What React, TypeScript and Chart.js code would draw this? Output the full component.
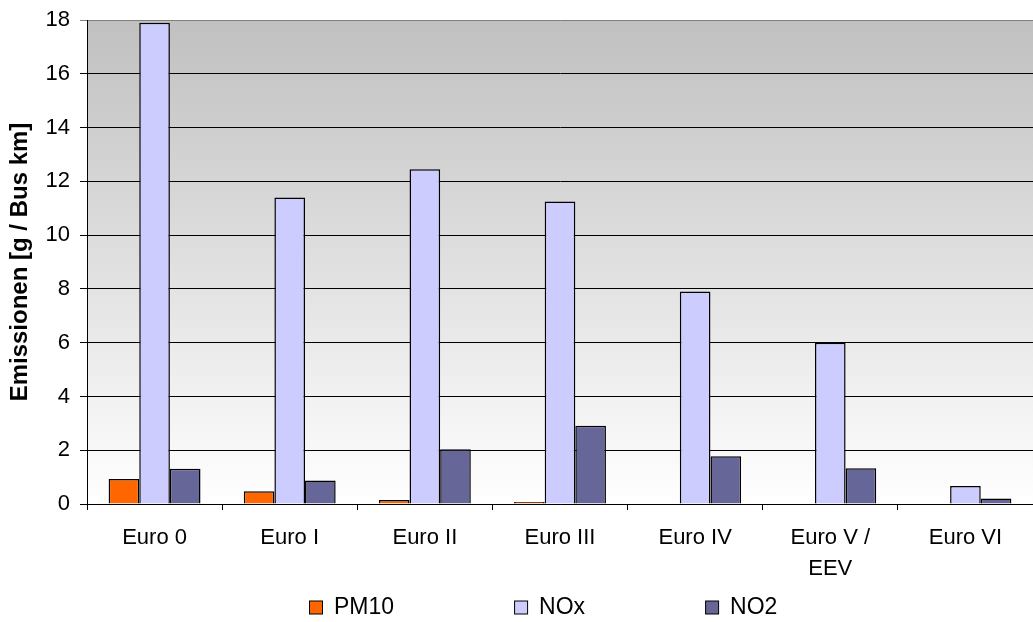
import React, { useEffect, useRef } from "react";
import { Chart, registerables } from "chart.js";

Chart.register(...registerables);

const categories: (string | string[])[] = ["Euro 0", "Euro I", "Euro II", "Euro III", "Euro IV", ["Euro V /", "EEV"], "Euro VI"];
const seriesNames = ["PM10", "NOx", "NO2"];
const pm10 = [0.93, 0.47, 0.15, 0.07, 0, 0, 0];
const nox = [17.9, 11.4, 12.45, 11.25, 7.9, 6.0, 0.67];
const no2 = [1.31, 0.87, 2.04, 2.91, 1.78, 1.33, 0.2];
const yMin = 0;
const yMax = 18;
const yStep = 2;

const FONT = "'Liberation Sans', Arial, sans-serif";

const bgPlugin = {
  id: "plotBg",
  beforeDraw(chart: any) {
    const { ctx, chartArea } = chart;
    if (!chartArea) return;
    const g = ctx.createLinearGradient(0, chartArea.top, 0, chartArea.bottom);
    g.addColorStop(0, "#C0C0C0");
    g.addColorStop(1, "#FFFFFF");
    ctx.save();
    ctx.fillStyle = g;
    ctx.fillRect(chartArea.left, chartArea.top, chartArea.right - chartArea.left, chartArea.bottom - chartArea.top);
    ctx.restore();
  },
};

// Legend drawn from the chart's datasets with fixed gaps between entries
const legendPlugin = {
  id: "bottomLegend",
  afterDraw(chart: any) {
    const { ctx } = chart;
    const fontSize = 23;
    const box = 13;
    const textGap = 12;
    const itemGap = 120;
    const centerX = 543;
    const centerY = 607;
    ctx.save();
    ctx.font = `${fontSize}px ${FONT}`;
    const items = chart.data.datasets.map((ds: any) => {
      const w = box + textGap + ctx.measureText(ds.label).width;
      return { ds, w };
    });
    const total = items.reduce((s: number, it: any) => s + it.w, 0) + itemGap * (items.length - 1);
    let x = Math.round(centerX - total / 2);
    ctx.textBaseline = "middle";
    ctx.textAlign = "left";
    for (const it of items) {
      ctx.fillStyle = it.ds.backgroundColor;
      ctx.fillRect(x + 0.5, centerY - box / 2 + 0.5, box, box);
      ctx.strokeStyle = "#000";
      ctx.lineWidth = 1;
      ctx.strokeRect(x + 0.5, centerY - box / 2 + 0.5, box, box);
      ctx.fillStyle = "#000";
      ctx.fillText(it.ds.label, x + box + textGap, centerY + 1);
      x += it.w + itemGap;
    }
    ctx.restore();
  },
};

export default function App() {
  const ref = useRef<HTMLCanvasElement | null>(null);
  useEffect(() => {
    document.body.style.margin = "0";
    const canvas = ref.current!;
    const chart = new Chart(canvas, {
      type: "bar",
      data: {
        labels: categories as any,
        datasets: [
          { label: seriesNames[0], data: pm10, backgroundColor: "#FF6600", borderColor: "#000000", borderWidth: 1.5, categoryPercentage: 0.68, barPercentage: 1 },
          { label: seriesNames[1], data: nox, backgroundColor: "#CCCCFF", borderColor: "#000000", borderWidth: 1.5, categoryPercentage: 0.68, barPercentage: 1 },
          { label: seriesNames[2], data: no2, backgroundColor: "#666699", borderColor: "#000000", borderWidth: 1.5, categoryPercentage: 0.68, barPercentage: 1 },
        ],
      },
      options: {
        animation: false,
        responsive: false,
        maintainAspectRatio: false,
        layout: { padding: { top: 20, right: 0, left: 0, bottom: 38 } },
        plugins: {
          legend: { display: false },
          tooltip: { enabled: false },
        },
        scales: {
          x: {
            grid: { display: true, drawOnChartArea: false, drawTicks: true, tickLength: 6, color: "#000", offset: true },
            border: { display: true, color: "#000", width: 1 },
            ticks: { color: "#000", font: { family: FONT, size: 22, lineHeight: 1.4 }, maxRotation: 0, autoSkip: false, padding: 13 },
            afterFit(scale: any) { scale.height = 80; },
          },
          y: {
            min: yMin,
            max: yMax,
            ticks: { stepSize: yStep, color: "#000", font: { family: FONT, size: 22 }, padding: 10 },
            grid: {
              color: (c: any) => (c.tick && c.tick.value === yMax ? "#808080" : "#000"),
              lineWidth: 1,
              tickLength: 7,
              drawTicks: true,
            },
            border: { display: true, color: "#000", width: 1 },
            title: { display: true, text: "Emissionen [g / Bus km]", color: "#000", font: { family: FONT, size: 24, weight: "bold" }, padding: { top: 6, bottom: 0 } },
            afterFit(scale: any) {
              scale.width = 87;
              scale.paddingTop = 0;
              scale.paddingBottom = 0;
            },
          },
        },
      },
      plugins: [bgPlugin, legendPlugin],
    } as any);
    return () => chart.destroy();
  }, []);
  return (
    <div style={{ width: 1033, height: 622 }}>
      <canvas ref={ref} width={1033} height={622} style={{ display: "block" }} />
    </div>
  );
}
